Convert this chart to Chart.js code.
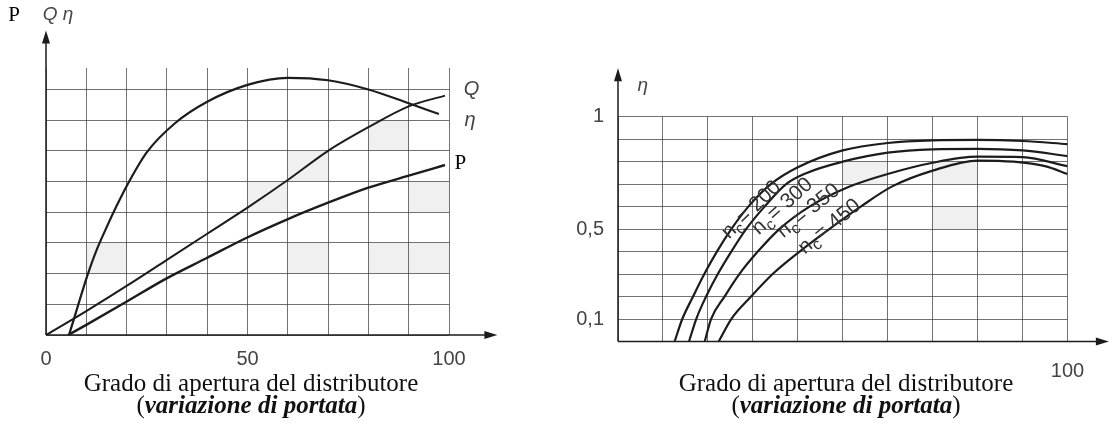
<!DOCTYPE html>
<html>
<head>
<meta charset="utf-8">
<script src="https://cdn.jsdelivr.net/npm/chart.js@4.4.1/dist/chart.umd.min.js"></script>
<style>
html, body { margin: 0; padding: 0; background: #fff; }
body { width: 1112px; height: 428px; position: relative; overflow: hidden; }
canvas { position: absolute; top: 0; }
#left { left: 0; }
#right { left: 556px; }
.cap {
    position: absolute; width: 420px; top: 372px;
    font-family: "Liberation Serif", "Times New Roman", serif;
    font-size: 25px; line-height: 22px; text-align: center; color: #111; white-space: nowrap;
}
.cap b { font-style: italic; }
</style>
</head>
<body>
<canvas id="left" width="556" height="428"></canvas>
<canvas id="right" width="556" height="428"></canvas>
<div class="cap" style="left:41px">Grado di apertura del distributore<br>(<b>variazione di portata</b>)</div>
<div class="cap" style="left:636px">Grado di apertura del distributore<br>(<b>variazione di portata</b>)</div>

<script>
// Left chart: Q, eta, P against opening (%)
const qX = [0, 10, 20, 30, 40, 50, 60, 70, 80, 90, 99];
const qY = [0, 0.78, 1.6, 2.45, 3.3, 4.15, 5.05, 6.0, 6.77, 7.45, 7.8];
const etaX = [5.7, 7, 8.5, 10.3, 12.5, 15, 17.5, 20, 25, 32, 40, 50, 60, 70, 80, 90, 97.5];
const etaY = [0, 0.55, 1.2, 1.95, 2.75, 3.5, 4.2, 4.85, 5.95, 6.9, 7.6, 8.15, 8.38, 8.3, 8.0, 7.55, 7.2];
const pX = [5.5, 10, 19.4, 29.7, 39.9, 49.8, 59.9, 70, 80, 90, 99];
const pY = [0, 0.33, 1.04, 1.83, 2.51, 3.17, 3.77, 4.31, 4.8, 5.19, 5.54];
const leftXTicks = [0, 50, 100];
const leftCells = [[80, 6], [60, 5], [90, 4], [50, 4], [10, 2], [60, 2], [80, 2], [90, 2]];

// Right chart: eta against opening for several n_c
const ncNames = ['200', '300', '350', '450'];
const nc200X = [12.6, 14.3, 16.7, 19.2, 22, 25.2, 29, 34, 40, 50, 60, 70, 80, 90, 100];
const nc200Y = [0, 0.1, 0.2, 0.3, 0.4, 0.5, 0.6, 0.7, 0.775, 0.85, 0.883, 0.895, 0.897, 0.892, 0.878];
const nc300X = [15.8, 17.4, 19.6, 22.2, 25.2, 28.5, 32.6, 37.4, 42, 50, 60, 70, 80, 90, 100];
const nc300Y = [0, 0.1, 0.2, 0.3, 0.4, 0.5, 0.6, 0.7, 0.75, 0.8, 0.84, 0.855, 0.857, 0.85, 0.825];
const nc350X = [19.3, 20.7, 23.7, 27, 31.1, 35.9, 42.6, 51, 60, 70, 80, 90, 100];
const nc350Y = [0, 0.1, 0.2, 0.3, 0.4, 0.5, 0.6, 0.685, 0.745, 0.795, 0.822, 0.82, 0.78];
const nc450X = [22.4, 25.2, 29.6, 34.4, 40.4, 47, 54, 61, 70, 80, 88, 95, 100];
const nc450Y = [0, 0.1, 0.2, 0.3, 0.4, 0.5, 0.6, 0.69, 0.76, 0.805, 0.8, 0.78, 0.745];
const rightXTicks = [100];
const rightYTicks = [0.1, 0.5, 1];
const rightYTickLabels = ['0,1', '0,5', '1'];
const rightCells = [[70, 0.5], [50, 0.7], [70, 0.7]];

const SANS = '"Liberation Sans", Arial, sans-serif';
const SERIF = '"Liberation Serif", "Times New Roman", serif';
const INK = '#1c1c1c';
const GRID = 'rgba(60,60,60,0.72)';

function toPoints(xs, ys) {
    return xs.map((x, i) => ({ x: x, y: ys[i] }));
}

function curve(xs, ys, w) {
    return {
        data: toPoints(xs, ys),
        showLine: true,
        borderColor: INK,
        borderWidth: w,
        pointRadius: 0,
        cubicInterpolationMode: 'monotone',
        fill: false
    };
}

function arrowUp(ctx, x, y) {
    ctx.beginPath();
    ctx.moveTo(x, y);
    ctx.lineTo(x - 4, y + 13);
    ctx.lineTo(x + 4, y + 13);
    ctx.closePath();
    ctx.fill();
}

function arrowRight(ctx, x, y) {
    ctx.beginPath();
    ctx.moveTo(x, y);
    ctx.lineTo(x - 13, y - 4);
    ctx.lineTo(x - 13, y + 4);
    ctx.closePath();
    ctx.fill();
}

function fillCells(chart, cells, w, h) {
    const { ctx, scales: { x, y } } = chart;
    ctx.save();
    ctx.fillStyle = '#f0f0f0';
    cells.forEach(([cx, cy]) => {
        const x0 = x.getPixelForValue(cx), x1 = x.getPixelForValue(cx + w);
        const y0 = y.getPixelForValue(cy + h), y1 = y.getPixelForValue(cy);
        ctx.fillRect(x0, y0, x1 - x0, y1 - y0);
    });
    ctx.restore();
}

function drawAxes(chart, xEnd, yEnd) {
    const { ctx, scales: { x, y } } = chart;
    const ox = x.getPixelForValue(0), oy = y.getPixelForValue(0);
    const tx = x.getPixelForValue(xEnd), ty = y.getPixelForValue(yEnd);
    ctx.save();
    ctx.strokeStyle = INK;
    ctx.fillStyle = INK;
    ctx.lineWidth = 1.5;
    ctx.beginPath();
    ctx.moveTo(ox, oy); ctx.lineTo(tx - 6, oy);
    ctx.moveTo(ox, oy); ctx.lineTo(ox, ty + 6);
    ctx.stroke();
    arrowRight(ctx, tx, oy);
    arrowUp(ctx, ox, ty);
    ctx.restore();
}

function text(ctx, str, px, py, font, color) {
    ctx.save();
    ctx.font = font;
    ctx.fillStyle = color;
    ctx.textAlign = 'center';
    ctx.textBaseline = 'middle';
    ctx.fillText(str, px, py);
    ctx.restore();
}

function ncLabel(ctx, px, py, ang, num) {
    const big = '21px ' + SANS, small = '16px ' + SANS;
    ctx.save();
    ctx.translate(px, py);
    ctx.rotate(ang * Math.PI / 180);
    ctx.fillStyle = '#333';
    ctx.textAlign = 'left';
    ctx.textBaseline = 'alphabetic';
    ctx.font = big;
    const wn = ctx.measureText('n').width;
    const rest = '= ' + num;
    const wr = ctx.measureText(rest).width;
    ctx.font = small;
    const wc = ctx.measureText('c').width;
    let cx = -(wn + wc + 1 + wr) / 2;
    ctx.font = big; ctx.fillText('n', cx, 7); cx += wn;
    ctx.font = small; ctx.fillText('c', cx, 12); cx += wc + 1;
    ctx.font = big; ctx.fillText(rest, cx, 7);
    ctx.restore();
}

// label anchors in data units
const leftLabels = [
    { t: 'Q', x: 105.6, y: 8.0, font: 'italic 20px ' + SANS, c: '#444' },
    { t: 'η', x: 105.2, y: 6.98, font: 'italic 20px ' + SANS, c: '#444' },
    { t: 'P', x: 102.8, y: 5.6, font: '21px ' + SERIF, c: '#000' },
    { t: 'P', x: -7.9, y: 10.4, font: '21px ' + SERIF, c: '#000' },
    { t: 'Q η', x: 3.0, y: 10.45, font: 'italic 19px ' + SANS, c: '#444' }
];
const ncAnchors = [[29.5, 0.59, -44], [36.4, 0.605, -42], [42.2, 0.585, -38.6], [46.9, 0.515, -39.6]];

const leftDecor = {
    id: 'leftDecor',
    beforeDraw(chart) { fillCells(chart, leftCells, 10, 1); },
    afterDraw(chart) {
        const { ctx, scales: { x, y } } = chart;
        drawAxes(chart, 112, 9.92);
        leftLabels.forEach(l => text(ctx, l.t, x.getPixelForValue(l.x), y.getPixelForValue(l.y), l.font, l.c));
    }
};

const rightDecor = {
    id: 'rightDecor',
    beforeDraw(chart) { fillCells(chart, rightCells, 10, 0.1); },
    afterDraw(chart) {
        const { ctx, scales: { x, y } } = chart;
        drawAxes(chart, 109.2, 1.215);
        text(ctx, 'η', x.getPixelForValue(5.5), y.getPixelForValue(1.14), 'italic 19px ' + SANS, '#444');
        ncAnchors.forEach((a, i) => ncLabel(ctx, x.getPixelForValue(a[0]), y.getPixelForValue(a[1]), a[2], ncNames[i]));
    }
};

new Chart(document.getElementById('left'), {
    type: 'scatter',
    data: {
        datasets: [curve(qX, qY, 2), curve(etaX, etaY, 2.2), curve(pX, pY, 2.4)]
    },
    options: {
        responsive: false,
        animation: false,
        layout: { padding: { left: 46, right: 107, top: 68, bottom: 53 } },
        plugins: { legend: { display: false }, tooltip: { enabled: false } },
        scales: {
            x: {
                type: 'linear', min: 0, max: 100,
                ticks: {
                    stepSize: 10, padding: 12, color: '#444', maxRotation: 0, autoSkip: false,
                    font: { family: SANS, size: 20 },
                    callback: v => leftXTicks.includes(v) ? String(v) : ''
                },
                grid: { color: GRID, lineWidth: 1, drawTicks: false },
                border: { display: false },
                afterFit: s => { s.height = 40; }
            },
            y: {
                type: 'linear', min: 0, max: 8.7,
                ticks: { stepSize: 1, display: false },
                afterBuildTicks: s => { s.ticks = s.ticks.filter(t => t.value <= 8); },
                grid: { color: GRID, lineWidth: 1, drawTicks: false },
                border: { display: false },
                afterFit: s => { s.width = 0; }
            }
        }
    },
    plugins: [leftDecor]
});

new Chart(document.getElementById('right'), {
    type: 'scatter',
    data: {
        datasets: [
            curve(nc200X, nc200Y, 2.2), curve(nc300X, nc300Y, 2.2),
            curve(nc350X, nc350Y, 2.2), curve(nc450X, nc450Y, 2.2)
        ]
    },
    options: {
        responsive: false,
        animation: false,
        layout: { padding: { left: 0, right: 44.5, top: 116.7, bottom: 46.5 } },
        plugins: { legend: { display: false }, tooltip: { enabled: false } },
        scales: {
            x: {
                type: 'linear', min: 0, max: 100,
                ticks: {
                    stepSize: 10, padding: 18, color: '#444', maxRotation: 0, autoSkip: false,
                    font: { family: SANS, size: 20 },
                    callback: v => rightXTicks.includes(v) ? String(v) : ''
                },
                grid: { color: GRID, lineWidth: 1, drawTicks: false },
                border: { display: false },
                afterFit: s => { s.height = 40; }
            },
            y: {
                type: 'linear', min: 0, max: 1,
                ticks: {
                    stepSize: 0.1, padding: 14, color: '#444', autoSkip: false,
                    font: { family: SANS, size: 20 },
                    callback: v => {
                        const i = rightYTicks.findIndex(t => Math.abs(t - v) < 1e-6);
                        return i >= 0 ? rightYTickLabels[i] : '';
                    }
                },
                grid: { color: GRID, lineWidth: 1, drawTicks: false },
                border: { display: false },
                afterFit: s => { s.width = 62; }
            }
        }
    },
    plugins: [rightDecor]
});
</script>
</body>
</html>
